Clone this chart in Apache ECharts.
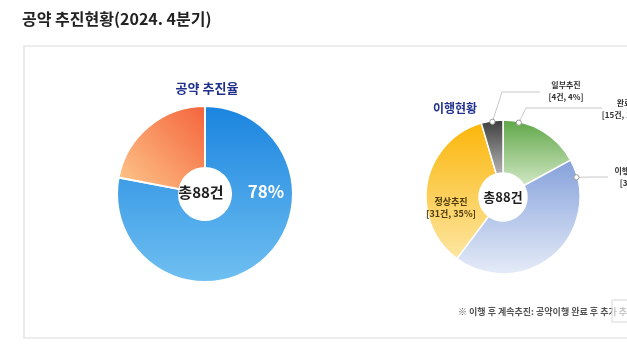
<!DOCTYPE html>
<html>
<head>
<meta charset="utf-8">
<script src="https://cdn.jsdelivr.net/npm/echarts@6/dist/echarts.min.js"></script>
<style>
html,body{margin:0;padding:0;background:#fff;}
#c{width:627px;height:355px;}
</style>
</head>
<body>
<div id="c"></div>
<script>
// ---- data ----
const pageTitle = '공약 추진현황(2024. 4분기)';
const rateTitle = '공약 추진율';
const rateNames = ['추진', '기타'];
const rateValues = [78, 22];
const statusTitle = '이행현황';
const statusNames = ['완료', '이행 후 계속추진', '정상추진', '일부추진'];
const statusCounts = [15, 38, 31, 4];
const statusPercents = [17, 43, 35, 4];
const totalCount = 88;
const footnote = '※ 이행 후 계속추진: 공약이행 완료 후 추가 추진';

// ---- style / layout ----
const FONT = '"Noto Sans CJK KR", "Noto Sans", sans-serif';
const P1 = { cx: 205, cy: 194, r0: 26, r: 88 };
const P2 = { cx: 503, cy: 197, r0: 24, r: 77 };
const G = echarts.graphic.LinearGradient;
const rateColors = [
  new G(0, 0, 0, 1, [{ offset: 0, color: '#1a84df' }, { offset: 1, color: '#70c0f1' }]),
  new G(1, 0, 0, 1, [{ offset: 0, color: '#f4623a' }, { offset: 1, color: '#fec98d' }])
];
const statusColors = [
  new G(0, 0, 0, 1, [{ offset: 0, color: '#5ea646' }, { offset: 1, color: '#d2e8c6' }]),
  new G(0, 0, 0, 1, [{ offset: 0, color: '#85a1db' }, { offset: 1, color: '#e6ecf8' }]),
  new G(0, 0, 0, 1, [{ offset: 0, color: '#fbb60a' }, { offset: 1, color: '#fde6a2' }]),
  new G(0, 0, 0, 1, [{ offset: 0, color: '#3c3c3c' }, { offset: 1, color: '#b4b4b4' }])
];
// label placement per status slice (anchor angle measured clockwise from top)
const statusLabelPlace = [
  { anchorAngle: 12, elbow: [526, 108], end: [602, 108], text: [624, 108.5] },
  { anchorAngle: 75, elbow: null, end: [608, 177], text: [642, 177] },
  { inside: true, text: [451, 208] },
  { anchorAngle: 352, elbow: [502, 92], end: [540, 92], text: [566, 91] }
];

function polar(c, deg, r) {
  const a = deg * Math.PI / 180;
  return [c.cx + r * Math.sin(a), c.cy - r * Math.cos(a)];
}

const chart = echarts.init(document.getElementById('c'), null, { renderer: 'canvas' });

const rateData = rateNames.map((n, i) => ({
  name: n, value: rateValues[i],
  itemStyle: { color: rateColors[i] },
  label: i === 0 ? { show: true } : { show: false }
}));

const statusData = statusNames.map((n, i) => {
  const place = statusLabelPlace[i];
  return {
    name: n, value: statusCounts[i],
    itemStyle: { color: statusColors[i] },
    label: {
      show: true,
      position: place.inside ? 'inside' : 'outside',
      color: place.inside ? '#4f3c0c' : '#333',
      fontSize: place.inside ? 9 : 8,
      lineHeight: 12
    },
    labelLine: { show: !place.inside }
  };
});

const dots = statusLabelPlace.filter(p => !p.inside).map(p => {
  const pt = polar(P2, p.anchorAngle, P2.r - 1);
  return {
    type: 'circle', shape: { cx: pt[0], cy: pt[1], r: 2.6 },
    style: { fill: '#fff', stroke: '#9a9a9a', lineWidth: 1 }, z: 100
  };
});

const option = {
  backgroundColor: '#fff',
  animation: false,
  graphic: [
    { type: 'rect', shape: { x: 24, y: 46, width: 640, height: 292 },
      style: { fill: '#fff', stroke: '#ececec', lineWidth: 2 }, z: -10 },
    { type: 'text', left: 22, top: 11,
      style: { text: pageTitle, font: 'bold 16px ' + FONT, fill: '#222' } },
    { type: 'text', x: P1.cx + 2, y: 88,
      style: { text: rateTitle, font: 'bold 13px ' + FONT, fill: '#1f2f8c', align: 'center', verticalAlign: 'middle' } },
    { type: 'text', x: 455, y: 108,
      style: { text: statusTitle, font: 'bold 12px ' + FONT, fill: '#22318f', align: 'center', verticalAlign: 'middle' } },
    { type: 'text', x: P1.cx - 4, y: P1.cy - 2, z: 50,
      style: { text: '총' + totalCount + '건', font: 'bold 15px ' + FONT, fill: '#1e1e1e', align: 'center', verticalAlign: 'middle' } },
    { type: 'text', x: P2.cx, y: P2.cy, z: 50,
      style: { text: '총' + totalCount + '건', font: 'bold 13px ' + FONT, fill: '#1e1e1e', align: 'center', verticalAlign: 'middle' } },
    { type: 'text', x: 458, y: 312,
      style: { text: footnote, font: 'bold 9px ' + FONT, fill: '#555', verticalAlign: 'middle' } },
    { type: 'rect', shape: { x: 612, y: 300, width: 24, height: 22 }, z: 60,
      style: { fill: 'rgba(255,255,255,0.65)', stroke: '#d8d8d8', lineWidth: 1 } }
  ].concat(dots),
  series: [
    {
      type: 'pie',
      center: [P1.cx, P1.cy],
      radius: [P1.r0, P1.r],
      startAngle: 90,
      clockwise: true,
      silent: true,
      itemStyle: { borderColor: '#fff', borderWidth: 2 },
      label: {
        position: 'inside',
        formatter: p => p.value + '%',
        color: '#fff', fontFamily: FONT, fontWeight: 'bold', fontSize: 17
      },
      labelLine: { show: false },
      labelLayout: () => ({ x: 266, y: 192, align: 'center', verticalAlign: 'middle' }),
      data: rateData
    },
    {
      type: 'pie',
      center: [P2.cx, P2.cy],
      radius: [P2.r0, P2.r],
      startAngle: 90,
      clockwise: true,
      silent: true,
      itemStyle: { borderColor: '#fff', borderWidth: 1.5 },
      label: {
        fontFamily: FONT, fontWeight: 'bold',
        overflow: 'none',
        formatter: p => p.name + '\n[' + statusCounts[p.dataIndex] + '건, ' + statusPercents[p.dataIndex] + '%]'
      },
      labelLine: { lineStyle: { color: '#c9c9c9', width: 1 } },
      labelLayout: params => {
        const place = statusLabelPlace[params.dataIndex];
        const res = { x: place.text[0], y: place.text[1], align: 'center', verticalAlign: 'middle' };
        if (!place.inside) {
          const start = polar(P2, place.anchorAngle, P2.r - 1);
          const pts = [start];
          pts.push(place.elbow ? place.elbow : [(start[0] + place.end[0]) / 2, place.end[1]]);
          pts.push(place.end);
          res.labelLinePoints = pts;
        }
        return res;
      },
      data: statusData
    }
  ]
};
chart.setOption(option);
</script>
</body>
</html>
